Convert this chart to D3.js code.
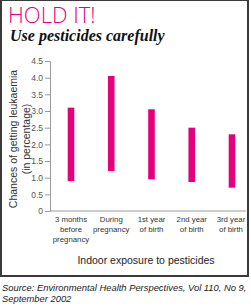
<!DOCTYPE html>
<html>
<head>
<meta charset="utf-8">
<script src="https://d3js.org/d3.v7.min.js"></script>
<style>
  body { margin: 0; background: #fff; }
  svg { display: block; }
  .tick text { font-family: "Liberation Sans", Arial, sans-serif; }
</style>
</head>
<body>
<div id="chart"></div>
<script>
// data
let periods = [
    ["3 months", "before", "pregnancy"],
    ["During", "pregnancy"],
    ["1st year", "of birth"],
    ["2nd year", "of birth"],
    ["3rd year", "of birth"]
];
let lowValues = [0.9, 1.2, 0.95, 0.87, 0.7];
let highValues = [3.1, 4.05, 3.05, 2.5, 2.3];
let yTicks = [0, 0.5, 1.0, 1.5, 2.0, 2.5, 3.0, 3.5, 4.0, 4.5];

let width = 251, height = 308;
let pink = "#e4007c";

let svg = d3.select("#chart").append("svg")
    .attr("width", width)
    .attr("height", height);

// frame
svg.append("rect")
    .attr("x", 1)
    .attr("y", 0)
    .attr("width", 247)
    .attr("height", 276)
    .attr("fill", "none")
    .attr("stroke", "#3a3a3a")
    .attr("stroke-width", 2);

// titles
svg.append("text")
    .attr("x", 8)
    .attr("y", 23)
    .attr("fill", pink)
    .style("font-family", "'Open Sans', sans-serif")
    .style("font-weight", 300)
    .style("font-size", "22px")
    .text("HOLD IT!");

svg.append("text")
    .attr("x", 10)
    .attr("y", 41)
    .attr("fill", "#111")
    .style("font-family", "'Liberation Serif', serif")
    .style("font-weight", "bold")
    .style("font-style", "italic")
    .style("font-size", "16px")
    .text("Use pesticides carefully");

// scales
let x = d3.scalePoint()
    .domain(d3.range(periods.length))
    .range([71, 232]);

let y = d3.scaleLinear()
    .domain([0, 4.5])
    .range([211, 61]);

// y axis
let yAxis = d3.axisLeft(y)
    .tickValues(yTicks)
    .tickSize(5)
    .tickPadding(2)
    .tickFormat(d => d == 0 ? "0" : d3.format(".1f")(d));

let yG = svg.append("g")
    .attr("class", "y-axis axis")
    .attr("transform", "translate(50,0)")
    .call(yAxis);
yG.select(".domain").attr("stroke", "#9a9a9a");
yG.selectAll(".tick line").attr("stroke", "#9a9a9a");
yG.selectAll(".tick text")
    .attr("fill", "#555")
    .style("font-size", "8.5px");

// x axis line
svg.append("line")
    .attr("x1", 50)
    .attr("x2", 246)
    .attr("y1", y(0))
    .attr("y2", y(0))
    .attr("stroke", "#9a9a9a");

// x labels
let xLab = svg.append("g").attr("class", "x-labels")
    .selectAll("text")
    .data(periods)
    .enter()
    .append("text")
    .attr("text-anchor", "middle")
    .attr("x", (d, i) => i == periods.length - 1 ? x(i) - 1 : x(i))
    .attr("y", 222)
    .attr("fill", "#333")
    .style("font-family", "'Liberation Sans', Arial, sans-serif")
    .style("font-size", "7.8px");

xLab.selectAll("tspan")
    .data(d => d)
    .enter()
    .append("tspan")
    .attr("x", function () { return d3.select(this.parentNode).attr("x"); })
    .attr("dy", (d, i) => i == 0 ? 0 : 10)
    .text(d => d);

// range bars
svg.selectAll(".bar")
    .data(periods)
    .enter()
    .append("rect")
    .attr("class", "bar")
    .attr("x", (d, i) => x(i) - 3.3)
    .attr("width", 6.6)
    .attr("y", (d, i) => y(highValues[i]))
    .attr("height", (d, i) => y(lowValues[i]) - y(highValues[i]))
    .attr("fill", pink);

// y axis title
let yTitle = svg.append("text")
    .attr("transform", "translate(0,139)rotate(-90)")
    .attr("text-anchor", "middle")
    .attr("fill", "#333")
    .style("font-family", "'Liberation Sans', Arial, sans-serif")
    .style("font-size", "10.5px");
yTitle.append("tspan").attr("x", 0).attr("y", 17).text("Chances of getting leukaemia");
yTitle.append("tspan").attr("x", 0).attr("y", 30).text("(in percentage)");

// x axis title
svg.append("text")
    .attr("x", 146)
    .attr("y", 264)
    .attr("text-anchor", "middle")
    .attr("fill", "#222")
    .style("font-family", "'Liberation Sans', Arial, sans-serif")
    .style("font-size", "10.5px")
    .text("Indoor exposure to pesticides");

// source
let src = svg.append("text")
    .attr("fill", "#222")
    .style("font-family", "'Liberation Sans', Arial, sans-serif")
    .style("font-style", "italic")
    .style("font-size", "9.4px");
src.append("tspan").attr("x", 2).attr("y", 291).text("Source: Environmental Health Perspectives, Vol 110, No 9,");
src.append("tspan").attr("x", 2).attr("y", 302).text("September 2002");
</script>
</body>
</html>
